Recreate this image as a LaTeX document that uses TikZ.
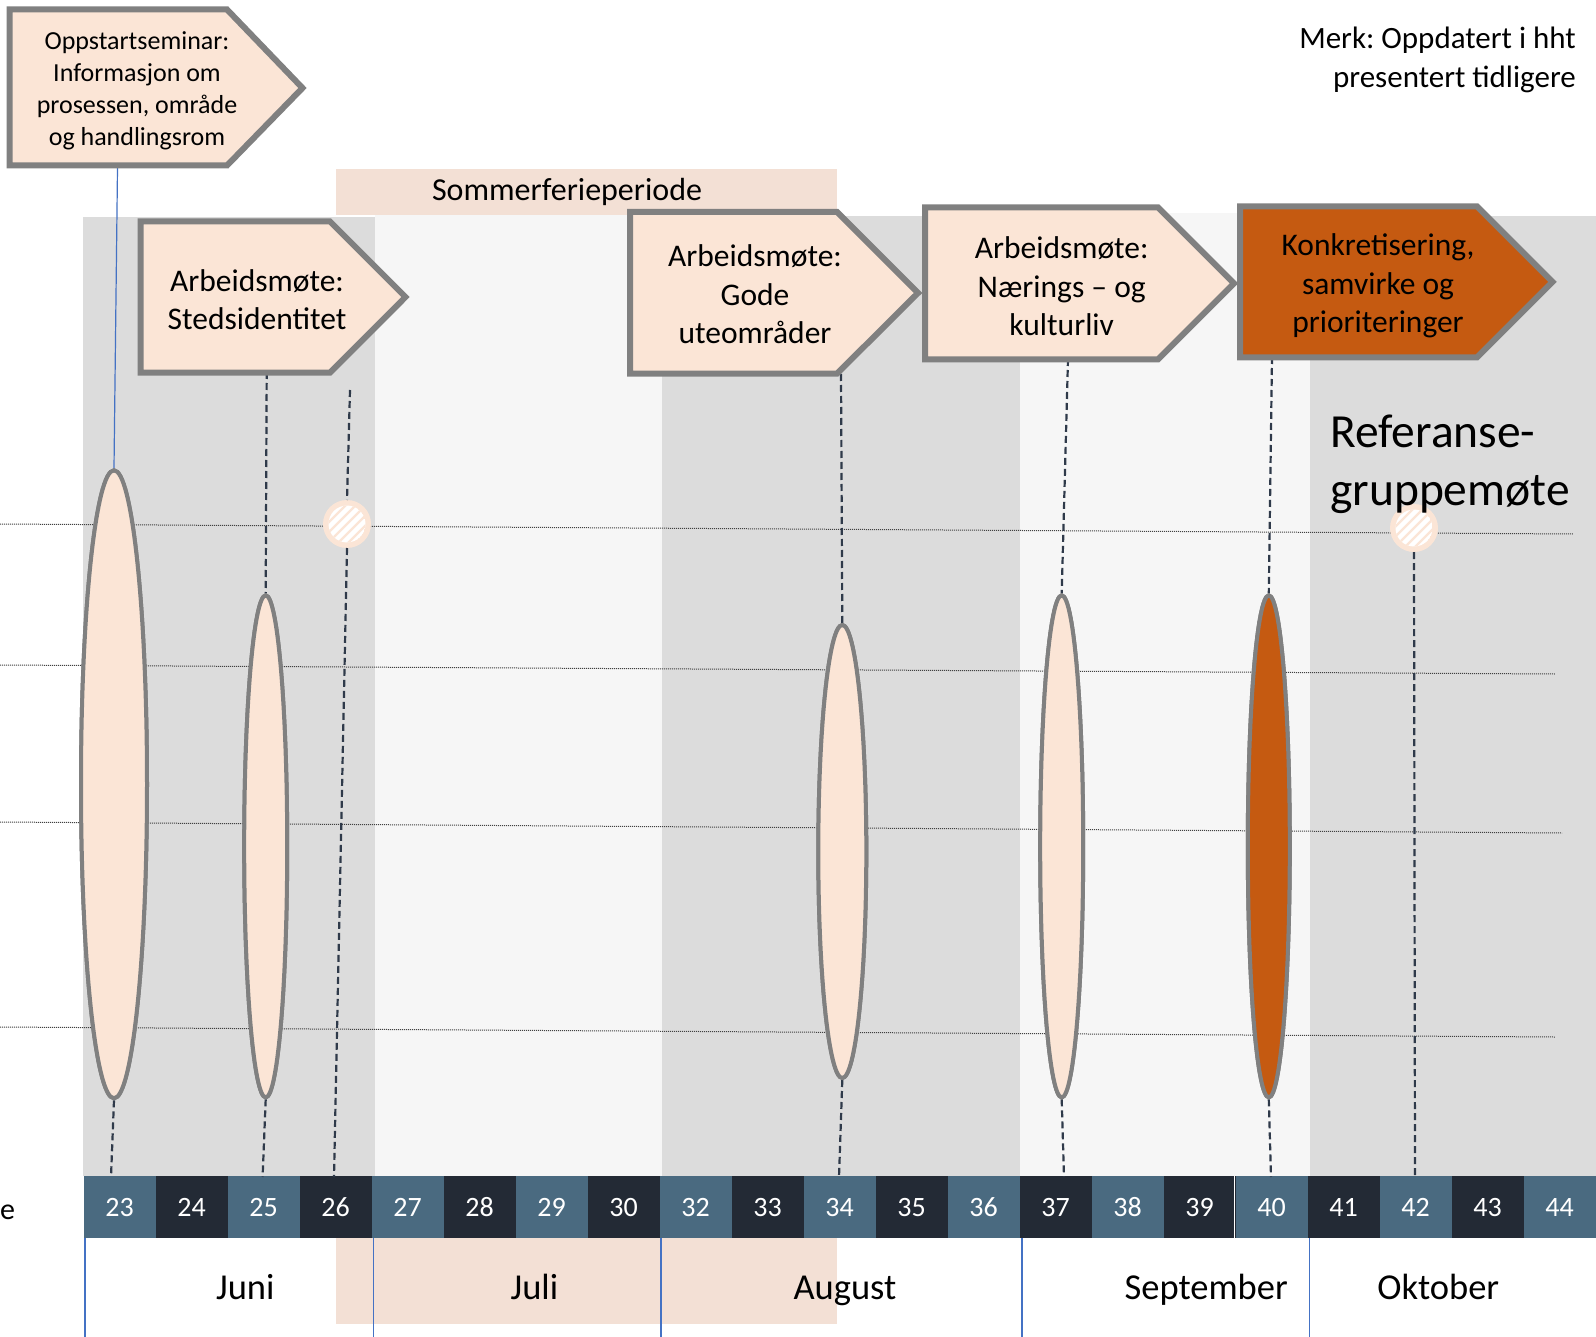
\documentclass[tikz,border=0pt]{standalone}
\usepackage{fontspec}
\setmainfont{Carlito}
\frenchspacing
\definecolor{peach}{HTML}{FBE5D6}
\definecolor{sommer}{HTML}{F3E0D5}
\definecolor{bggray}{HTML}{DCDCDC}
\definecolor{bglight}{HTML}{F6F6F6}
\definecolor{weekblue}{HTML}{4A6A80}
\definecolor{weekdark}{HTML}{232A35}
\definecolor{orangex}{HTML}{C55A11}
\definecolor{boxline}{HTML}{808080}
\definecolor{dashcol}{HTML}{2F3A4A}
\definecolor{bluel}{HTML}{4472C4}
\usetikzlibrary{shapes.geometric}
\tikzset{
  arrowbox/.style={fill=peach, draw=boxline, line width=6pt, line join=miter},
  arrowboxdark/.style={fill=orangex, draw=boxline, line width=6pt, line join=miter},
  boxtext/.style={align=center, font=\fontsize{31.5}{38.5}\selectfont, inner sep=0pt},
  ell/.style={ellipse, draw=boxline, line width=4pt, fill=peach, inner sep=0pt},
  dashln/.style={draw=dashcol, line width=2.2pt, dash pattern=on 7pt off 4pt},
  dotln/.style={draw=black!75, line width=1pt, densely dotted},
  bluln/.style={draw=bluel, line width=1.2pt},
  weektxt/.style={text=white, font=\fontsize{28}{32}\selectfont},
  monthtxt/.style={font=\fontsize{36.5}{42}\selectfont, anchor=base, inner sep=0pt},
}
\begin{document}
\begin{tikzpicture}[x=1pt,y=-1pt]
\useasboundingbox (0,0) rectangle (1596,1337);
\fill[white] (0,0) rectangle (1596,1337);
% background columns
\fill[bggray] (83,217) rectangle (374.5,1176);
\fill[bglight] (374.5,213.5) rectangle (662,1176);
\fill[bggray] (662,216) rectangle (1020,1176);
\fill[bglight] (1020,213) rectangle (1310,1176);
\fill[bggray] (1310,216) rectangle (1596,1176);
% sommer boxes
\fill[sommer] (336,169) rectangle (837,215);
\node[font=\fontsize{32}{38}\selectfont] (sommer) at (567,192) {Sommerferieperiode};
\fill[sommer] (336,1238) rectangle (837,1323.5);
% horizontal dotted lines
\draw[dotln] (0,524) -- (1573,534);
\draw[dotln] (0,665) -- (1555,674);
\draw[dotln] (0,822) -- (1562,833);
\draw[dotln] (0,1027) -- (1555,1037);
% week bar
\foreach \w [count=\i from 0] in {23,24,25,26,27,28,29,30,32,33,34,35,36,37,38,39,40,41,42,43,44}{
  \pgfmathsetmacro{\xa}{83.5+72*\i}
  \pgfmathtruncatemacro{\odd}{mod(\i,2)}
  \ifnum\odd=0 \def\cc{weekblue}\else\def\cc{weekdark}\fi
  \fill[\cc] (\xa,1176) rectangle ++(72.5,62);
  \node[weektxt] (w\w) at (\xa+36,1207.5) {\w};
}
\draw[white, line width=1.5pt] (1234.5,1176) -- (1234.5,1238);
\node[font=\fontsize{30}{34}\selectfont, anchor=west, inner sep=0pt] (uke) at (0,1212) {e};
% blue vertical lines below bar
\foreach \x in {85,373.5,661,1022,1309.5}{
  \draw[bluln] (\x,1238) -- (\x,1337);
}
% months
\node[monthtxt] (juni) at (245.3,1299) {Juni};
\node[monthtxt] (juli) at (534.4,1299) {Juli};
\node[monthtxt] (aug) at (844.9,1299) {August};
\node[monthtxt] (sep) at (1206.2,1299) {September};
\node[monthtxt] (okt) at (1438.3,1299) {Oktober};
% coordinates for connectors
\coordinate (b23) at (111,1177);
\coordinate (b25) at (262.6,1177);
\coordinate (b26) at (334,1177);
\coordinate (b34) at (839,1177);
\coordinate (b37) at (1064,1177);
\coordinate (b40) at (1271,1177);
\coordinate (b42) at (1415,1177);
\coordinate (t1) at (117.5,168);
\coordinate (t2) at (266.7,372);
\coordinate (t26) at (350,390);
\coordinate (t3) at (841,374);
\coordinate (t4) at (1068,359);
\coordinate (t5) at (1272,357);
% ellipses as nodes
\path (114,784.3) node[ell, minimum width=66, minimum height=628] (e23) {};
\path (265.7,846.4) node[ell, minimum width=43, minimum height=502] (e25) {};
\path (842.3,851.5) node[ell, minimum width=48, minimum height=453] (e34) {};
\path (1061.7,846.4) node[ell, minimum width=43, minimum height=502] (e37) {};
\path (1268.8,846.4) node[ell, minimum width=42, minimum height=502, fill=orangex] (e40) {};
% hatched circles
\foreach \cx/\cy/\nm in {347/524/c26,1414/528/c42}{
  \fill[peach] (\cx,\cy) circle (24);
  \begin{scope}[shift={(\cx,\cy)}]
    \clip (0,0) circle (18.5);
    \fill[white] (0,0) circle (18.5);
    \foreach \d in {-40,-30,...,40}{
      \draw[peach, line width=2.3pt] (\d-30,30) -- (\d+30,-30);
    }
  \end{scope}
  \node[circle, minimum size=48, inner sep=0pt, outer sep=0pt] (\nm) at (\cx,\cy) {};
}
% connectors
\draw[bluln] (t1) -- (e23.north);
\draw[dashln] (e23.south) -- (b23);
\draw[dashln] (t2) -- (e25.north);
\draw[dashln] (e25.south) -- (b25);
\draw[dashln] (t26) -- (c26.north);
\draw[dashln] (c26.south) -- (b26);
\draw[dashln] (t3) -- (e34.north);
\draw[dashln] (e34.south) -- (b34);
\draw[dashln] (t4) -- (e37.north);
\draw[dashln] (e37.south) -- (b37);
\draw[dashln] (t5) -- (e40.north);
\draw[dashln] (e40.south) -- (b40);
\draw[dashln] (c42.south) -- (b42);
% redraw ellipses on top of connectors
\node[ell, minimum width=66, minimum height=628] at (e23) {};
\node[ell, minimum width=43, minimum height=502] at (e25) {};
\node[ell, minimum width=48, minimum height=453] at (e34) {};
\node[ell, minimum width=43, minimum height=502] at (e37) {};
\node[ell, minimum width=42, minimum height=502, fill=orangex] at (e40) {};
% arrow boxes
\draw[arrowbox] (9.5,9.5) -- (227,9.5) -- (302.5,88) -- (227,165.5) -- (9.5,165.5) -- cycle;
\node[boxtext, font=\fontsize{26}{31.9}\selectfont] (box1) at (137,90.5) {Oppstartseminar:\\Informasjon om\\prosessen, område\\og handlingsrom};
\draw[arrowbox] (140.5,221.5) -- (330,221.5) -- (405.5,297) -- (330,372.6) -- (140.5,372.6) -- cycle;
\node[boxtext] (box2) at (257,299.5) {Arbeidsmøte:\\Stedsidentitet};
\draw[arrowbox] (630,212) -- (837,212) -- (918,293) -- (837,373.6) -- (630,373.6) -- cycle;
\node[boxtext] (box3) at (755,294.5) {Arbeidsmøte:\\Gode\\uteområder};
\draw[arrowbox] (925,207.3) -- (1158,207.3) -- (1234,283.4) -- (1158,359.4) -- (925,359.4) -- cycle;
\node[boxtext] (box4) at (1061.7,286.5) {Arbeidsmøte:\\Nærings – og\\kulturliv};
\draw[arrowboxdark] (1240,206.3) -- (1477,206.3) -- (1552.5,281.8) -- (1477,357.3) -- (1240,357.3) -- cycle;
\node[boxtext] (box5) at (1378,286.2) {Konkretisering,\\samvirke og\\prioriteringer};
% notes
\node[align=right, anchor=east, inner sep=0pt, font=\fontsize{31}{38.5}\selectfont] (merk) at (1576,60) {Merk: Oppdatert i hht\\presentert tidligere};
\node[align=left, anchor=west, inner sep=0pt, font=\fontsize{47.5}{58}\selectfont] (ref) at (1330,464.5) {Referanse-\\gruppemøte};
\end{tikzpicture}
\end{document}
